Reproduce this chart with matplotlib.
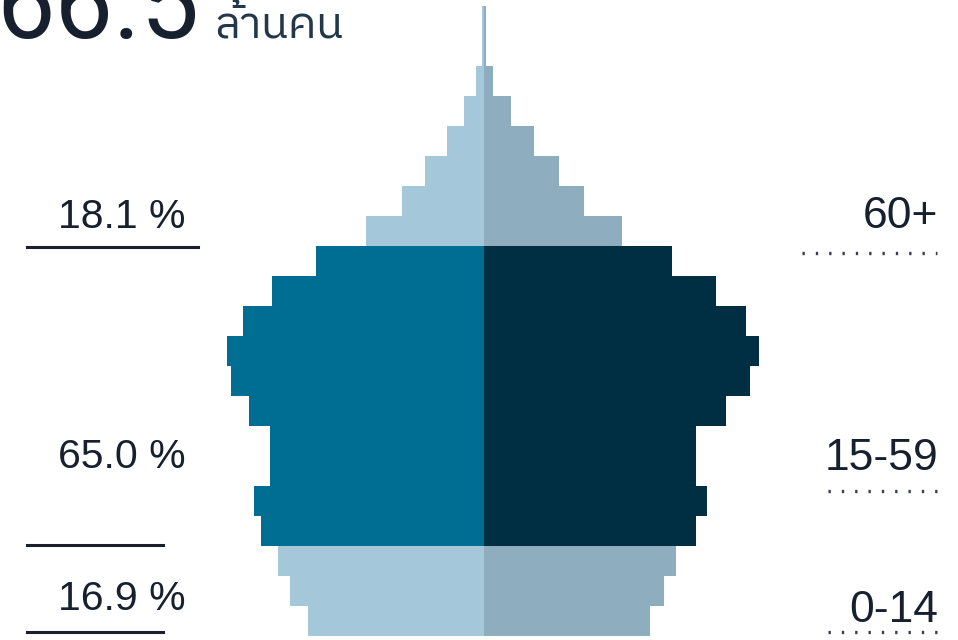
import matplotlib
matplotlib.use("Agg")
import matplotlib.pyplot as plt
from matplotlib import font_manager
from matplotlib.ft2font import FT2Font
from matplotlib.lines import Line2D
import numpy as np

# population by 5-year age group, thousands (0-4 ... 100+)
age_groups = ["0-4", "5-9", "10-14", "15-19", "20-24", "25-29", "30-34", "35-39",
              "40-44", "45-49", "50-54", "55-59", "60-64", "65-69", "70-74",
              "75-79", "80-84", "85-89", "90-94", "95-99", "100+"]
left_vals = [1760, 1940, 2060, 2230, 2300, 2140, 2140, 2350, 2530, 2570, 2410,
             2120, 1680, 1180, 820, 590, 370, 200, 80, 20, 20]
right_vals = [1660, 1800, 1920, 2120, 2230, 2120, 2120, 2420, 2660, 2750, 2620,
              2320, 1880, 1380, 1000, 750, 500, 270, 90, 20, 20]
working = [False, False, False] + [True] * 10 + [False] * 8

total_text = "66.5"
total_unit = "ล้านคน"
share_labels = ["18.1 %", "65.0 %", "16.9 %"]
band_labels = ["60+", "15-59", "0-14"]

# find a font that has Thai glyphs, prefer a regular-weight sans
cands = []
for path in sorted(font_manager.findSystemFonts()):
    try:
        if 0x0E25 in FT2Font(path).get_charmap():
            name = path.lower()
            score = 0
            if "mono" in name:
                score += 2
            if "sans" not in name:
                score += 1
            for bad in ["bold", "italic", "oblique", "light", "thin", "condensed",
                        "semi", "extra", "black", "medium", "narrow"]:
                if bad in name:
                    score += 3
            if "regular" in name:
                score -= 1
            cands.append((score, path))
    except Exception:
        pass
cands.sort()
thai_path = cands[0][1] if cands else None

W, H = 958, 640
fig = plt.figure(figsize=(W / 100, H / 100), dpi=100)
ax = fig.add_axes([0, 0, 1, 1])
ax.axis("off")

y = np.arange(len(age_groups))
lc = ["#006d92" if w else "#a4c7da" for w in working]
rc = ["#002e42" if w else "#8eaec0" for w in working]
ax.barh(y, -np.array(left_vals), height=1.0, color=lc, linewidth=0)
ax.barh(y, right_vals, height=1.0, color=rc, linewidth=0)

ax.set_xlim(-4840, 4740)
y0 = -0.5 - 4 / 30
ax.set_ylim(y0, y0 + H / 30)

def fx(px):
    return px / W

def fy(py):
    return 1 - py / H

txt = "#17202e"
fig.text(fx(-4), fy(38), total_text, fontsize=75, family="Roboto", color=txt,
         ha="left", va="baseline")

if thai_path:
    fp = font_manager.FontProperties(fname=thai_path, size=32)
else:
    fp = font_manager.FontProperties(size=32)
fig.text(fx(214), fy(37), total_unit, fontproperties=fp, color="#22384a",
         ha="left", va="baseline")

for lab, py in zip(share_labels, [228, 468, 610]):
    fig.text(fx(186), fy(py), lab, fontsize=29.5, family="Liberation Sans",
             color=txt, ha="right", va="baseline")
for lab, py in zip(band_labels, [228, 470, 622]):
    fig.text(fx(938), fy(py), lab, fontsize=32, family="Liberation Sans",
             color=txt, ha="right", va="baseline")

for x0, x1, py in [(27, 198, 247), (27, 163, 545), (27, 163, 632)]:
    fig.add_artist(Line2D([fx(x0), fx(x1)], [fy(py), fy(py)], color="#1a1f2b",
                          linewidth=2.2))
for x0, x1, py in [(802, 937, 253), (828, 937, 491), (828, 937, 632)]:
    fig.add_artist(Line2D([fx(x0), fx(x1)], [fy(py), fy(py)], color="#3a404c",
                          linewidth=2.4, linestyle=(0, (0.7, 3.3))))

fig.savefig("out.png", dpi=100)
